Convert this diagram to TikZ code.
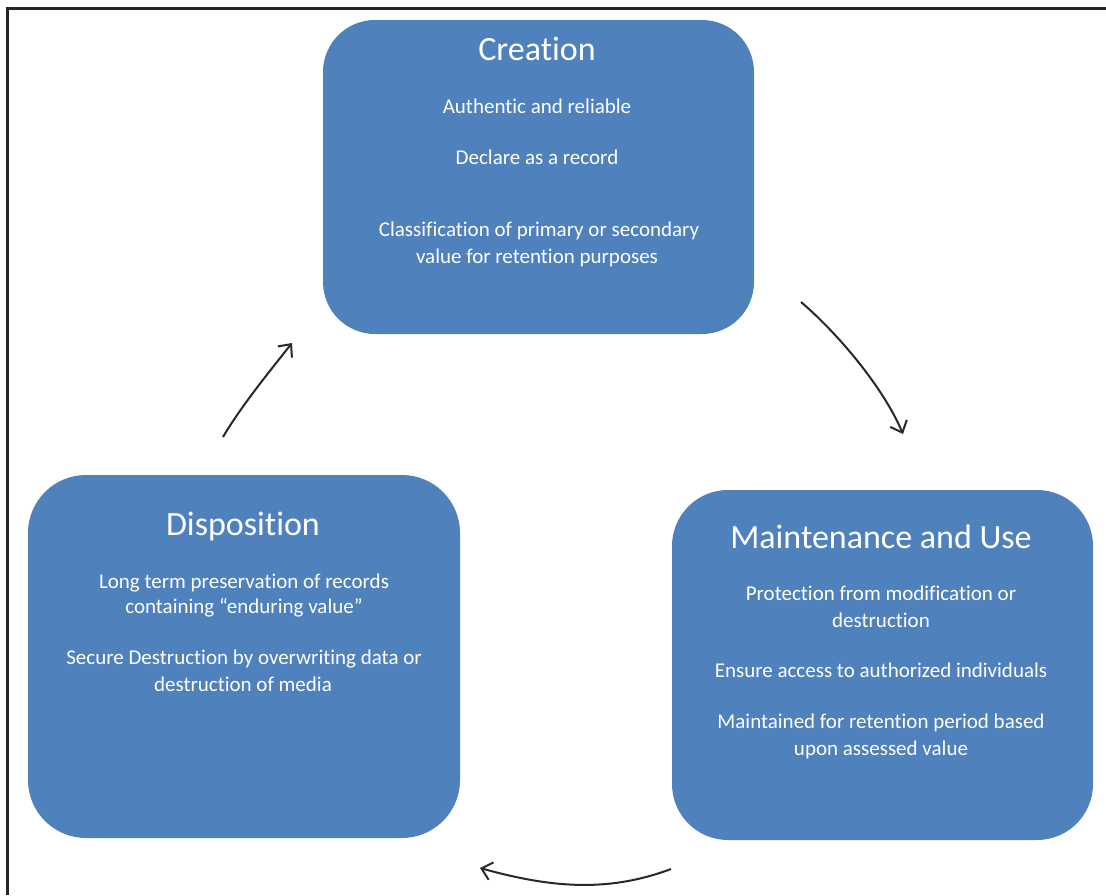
\documentclass[tikz,border=0pt]{standalone}
\usepackage{fontspec}
\setmainfont{Carlito}[Ligatures=NoCommon]
\usetikzlibrary{arrows.meta}
\definecolor{boxblue}{HTML}{4F81BD}
\definecolor{framecol}{RGB}{40,36,30}
\definecolor{arrowcol}{RGB}{40,40,40}
\tikzset{
  box/.style={rectangle, fill=boxblue, draw=none, inner sep=0pt, outer sep=0pt},
  title/.style={text=white, font=\fontsize{34}{40}\selectfont, anchor=base, inner sep=0pt},
  body/.style={text=white, font=\fontsize{21}{26}\selectfont, anchor=base, inner sep=0pt},
  cyc/.style={draw=arrowcol, line width=2pt, -{Straight Barb[length=10pt,width=18pt,line width=2pt]}},
  framestyle/.style={draw=framecol, line width=2.6pt}
}
\begin{document}
\begin{tikzpicture}[x=1pt,y=-1pt]
\useasboundingbox (0,0) rectangle (1106,895);
\fill[white] (0,0) rectangle (1106,895);
% frame (top and left edges)
\coordinate (ftl) at (7.5,8.2);
\coordinate (ftr) at (1106,8.2);
\coordinate (fbl) at (7.5,895);
\draw[framestyle] (ftr) -- (ftl) -- (fbl);

% boxes
\node[box, minimum width=431pt, minimum height=314pt, rounded corners=52pt] (creation) at (538.5,177) {};
\node[box, minimum width=432pt, minimum height=363pt, rounded corners=58pt] (disposition) at (244,656.5) {};
\node[box, minimum width=421pt, minimum height=350pt, rounded corners=56pt] (maint) at (882.5,665) {};

% Creation text
\node[title] (ctitle) at (537,60) {Creation};
\node[body] (c1) at (537,113) {Authentic and reliable};
\node[body] (c2) at (537,164) {Declare as a record};
\node[body] (c3) at (539,236) {Classification of primary or secondary};
\node[body] (c4) at (537,263) {value for retention purposes};

% Disposition text
\node[title] (dtitle) at (243,535) {Disposition};
\node[body] (d1) at (244,588) {Long term preservation of records};
\node[body] (d2) at (244,613) {containing “enduring value”};
\node[body] (d3) at (244,664) {Secure Destruction by overwriting data or};
\node[body] (d4) at (243,691) {destruction of media};

% Maintenance text
\node[title] (mtitle) at (881,548) {Maintenance and Use};
\node[body] (m1) at (881,600) {Protection from modification or};
\node[body] (m2) at (881,627) {destruction};
\node[body] (m3) at (881,677) {Ensure access to authorized individuals};
\node[body] (m4) at (881,728) {Maintained for retention period based};
\node[body] (m5) at (881,755) {upon assessed value};

% cycle arrows
\coordinate (a1s) at (223,437);
\coordinate (a1e) at (292,343);
\coordinate (a2s) at (801,302);
\coordinate (a2e) at (903,434);
\coordinate (a3s) at (671,869);
\coordinate (a3e) at (480,868);
\draw[cyc] (a1s) .. controls (240.7,406.8) and (270.3,370.4) .. (a1e);
\draw[cyc] (a2s) .. controls (839,334.5) and (883.5,388) .. (a2e);
\draw[cyc] (a3s) .. controls (605.5,893.6) and (547.5,886.7) .. (a3e);
\end{tikzpicture}
\end{document}
